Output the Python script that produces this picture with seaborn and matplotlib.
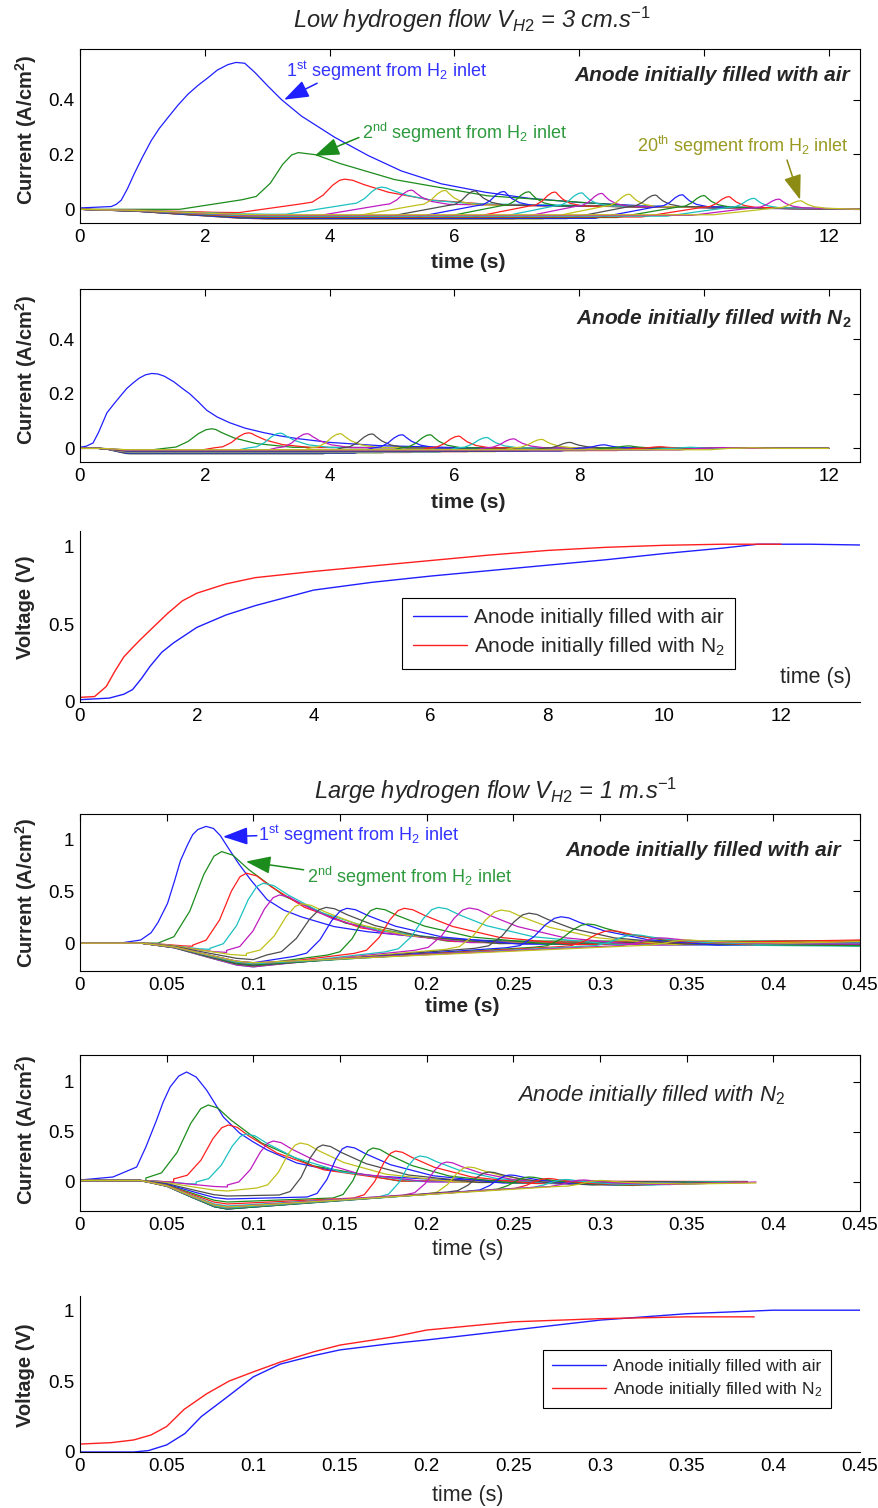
import matplotlib
matplotlib.use("Agg")
import matplotlib.pyplot as plt
import numpy as np
import seaborn as sns
from matplotlib.ticker import FuncFormatter

# ---------------------------------------------------------------- data
SEG_COLORS = ["#1f1fff", "#1c8c1c", "#ff1f1f", "#1cc0c0", "#c01cc0", "#c0c01c", "#4d4d4d"]

# shared bump profile (fraction of interval, fraction of height)
RISE_FRAC = [0.25, 0.5, 0.72, 0.88, 1.0]
RISE_LEVEL = [0.07, 0.35, 0.75, 0.95, 1.0]
FALL_FRAC = [0.05, 0.12, 0.28, 0.55, 1.0]
FALL_LEVEL = [0.96, 0.8, 0.5, 0.2, 0.0]
DIP_FRAC = [0.3, 0.6, 0.85, 1.0]
DIP_LEVEL = [0.2, 0.6, 0.92, 1.0]

# low hydrogen flow, anode filled with air: first segment
low_air_seg1_t = [0, 0.5, 0.58, 0.66, 0.76, 0.87, 1.0, 1.14, 1.27, 1.41, 1.57, 1.73, 1.89, 2.05,
                  2.2, 2.37, 2.5, 2.64, 2.8, 3.01, 3.23, 3.55, 4.08, 4.62, 5.15, 5.79, 6.5, 7.2,
                  8.0, 9.0, 10.0, 11.0, 12.5]
low_air_seg1_i = [0.005, 0.01, 0.018, 0.033, 0.075, 0.13, 0.19, 0.25, 0.295, 0.335, 0.38, 0.42,
                  0.452, 0.48, 0.508, 0.528, 0.536, 0.533, 0.5, 0.45, 0.4, 0.34, 0.263, 0.196,
                  0.14, 0.093, 0.062, 0.04, 0.025, 0.013, 0.006, 0.003, 0.0]
# segments 2..20
low_air_pk_t = [3.5, 4.24, 4.83, 5.31, 5.85, 6.33, 6.79, 7.19, 7.61, 8.04, 8.36, 8.8, 9.22, 9.65,
                10.0, 10.4, 10.8, 11.2, 11.55]
low_air_pk_i = [0.207, 0.11, 0.081, 0.07, 0.069, 0.067, 0.065, 0.064, 0.063, 0.06, 0.058, 0.055,
                0.052, 0.053, 0.05, 0.046, 0.04, 0.037, 0.031]
low_air_on_t = [2.6, 3.55, 4.3, 4.85, 5.4, 5.9, 6.35, 6.75, 7.2, 7.6, 7.95, 8.4, 8.8, 9.25, 9.6,
                10.0, 10.4, 10.8, 11.15]
low_air_on_i = [0.035, 0.02, 0.018, 0.016, 0.015, 0.014, 0.013, 0.013, 0.012, 0.012, 0.011, 0.011,
                0.01, 0.01, 0.009, 0.008, 0.007, 0.006, 0.005]
low_air_dip_i = [0.0, -0.012, -0.018, -0.022, -0.025, -0.028, -0.03, -0.032, -0.033, -0.034, -0.035,
                 -0.035, -0.034, -0.033, -0.03, -0.028, -0.025, -0.022, -0.02]
low_air_fall_w = [5.5, 2.5, 1.5, 0.6, 0.5, 0.48, 0.46, 0.45, 0.44, 0.43, 0.42, 0.42, 0.42, 0.42,
                  0.42, 0.42, 0.4, 0.4, 0.4]
low_air_tail_i = [0.01, 0.015, 0.02, 0.018, 0.016, 0.015, 0.014, 0.013, 0.012, 0.012, 0.011, 0.01,
                  0.01, 0.009, 0.008, 0.007, 0.006, 0.005, 0.004]

# low hydrogen flow, anode filled with N2
low_n2_seg1_t = [0, 0.1, 0.21, 0.3, 0.43, 0.55, 0.64, 0.75, 0.85, 0.95, 1.05, 1.15, 1.25, 1.35,
                 1.5, 1.63, 1.76, 1.9, 2.03, 2.2, 2.4, 2.65, 2.94, 3.2, 3.48, 4.0, 4.8, 6.0, 8.0,
                 12.0]
low_n2_seg1_i = [0.004, 0.008, 0.02, 0.06, 0.13, 0.165, 0.19, 0.22, 0.24, 0.258, 0.27, 0.275,
                 0.273, 0.265, 0.245, 0.222, 0.2, 0.17, 0.14, 0.115, 0.094, 0.074, 0.058, 0.046,
                 0.036, 0.022, 0.01, 0.003, 0.0, 0.0]
low_n2_pk_t = [2.11, 2.7, 3.21, 3.64, 4.17, 4.68, 5.16, 5.61, 6.07, 6.52, 6.95, 7.4, 7.85, 8.4, 8.8,
               9.3, 9.8, 10.3, 10.8]
low_n2_pk_i = [0.072, 0.057, 0.056, 0.054, 0.054, 0.053, 0.05, 0.05, 0.045, 0.04, 0.035, 0.033,
               0.022, 0.013, 0.009, 0.006, 0.004, 0.003, 0.002]
low_n2_on_t = [1.35, 2.15, 2.7, 3.15, 3.7, 4.2, 4.7, 5.15, 5.6, 6.05, 6.5, 6.95, 7.45, 8.0, 8.4, 8.9,
               9.4, 9.9, 10.4]
low_n2_on_i = [0.0, 0.002, 0.002, 0.002, 0.002, 0.002, 0.002, 0.002, 0.002, 0.002, 0.002, 0.002,
               0.001, 0.001, 0.001, 0.0, 0.0, 0.0, 0.0]
low_n2_dip_i = [-0.008, -0.01, -0.012, -0.015, -0.018, -0.02, -0.018, -0.016, -0.015, -0.014, -0.012,
                -0.012, -0.01, -0.01, -0.008, -0.008, -0.006, -0.006, -0.005]
low_n2_fall_w = [1.3, 1.0, 0.8, 0.7, 0.6, 0.55, 0.55, 0.5, 0.5, 0.5, 0.5, 0.5, 0.5, 0.5, 0.5, 0.5,
                 0.5, 0.5, 0.5]
low_n2_tail_i = [0.004, 0.003, 0.003, 0.003, 0.003, 0.002, 0.002, 0.002, 0.002, 0.002, 0.002, 0.002,
                 0.002, 0.001, 0.001, 0.001, 0.0, 0.0, 0.0]

# low hydrogen flow, cell voltage
v_low_air_t = [0, 0.5, 0.75, 0.9, 1.05, 1.2, 1.4, 1.6, 1.8, 2.0, 2.5, 3.0, 3.5, 4.0, 5.0, 6.0, 7.0,
               8.0, 9.0, 10.0, 11.0, 11.6, 12.5, 13.35]
v_low_air = [0.015, 0.025, 0.05, 0.08, 0.15, 0.23, 0.32, 0.38, 0.43, 0.48, 0.56, 0.62, 0.67, 0.72,
             0.77, 0.81, 0.845, 0.88, 0.915, 0.955, 0.99, 1.015, 1.015, 1.01]
v_low_n2_t = [0, 0.25, 0.45, 0.6, 0.75, 0.9, 1.03, 1.25, 1.5, 1.75, 2.0, 2.5, 3.0, 4.0, 5.0, 6.0,
              7.0, 8.0, 9.0, 10.0, 11.0, 12.0]
v_low_n2 = [0.03, 0.035, 0.1, 0.2, 0.29, 0.35, 0.4, 0.48, 0.57, 0.65, 0.7, 0.76, 0.8, 0.84, 0.875,
            0.91, 0.945, 0.975, 0.995, 1.008, 1.015, 1.015]

# large hydrogen flow, anode filled with air
big_air_seg1_t = [0, 0.01, 0.025, 0.035, 0.041, 0.045, 0.0505, 0.0545, 0.058, 0.062, 0.065, 0.068,
                  0.0727, 0.077, 0.081, 0.085, 0.0915, 0.0986, 0.108, 0.1175, 0.1275, 0.1466,
                  0.166, 0.19, 0.22, 0.26, 0.3, 0.35, 0.45]
big_air_seg1_i = [0, 0, 0.005, 0.03, 0.1, 0.2, 0.385, 0.6, 0.8, 0.95, 1.05, 1.1, 1.13, 1.11, 1.04,
                  0.935, 0.77, 0.61, 0.42, 0.32, 0.255, 0.16, 0.11, 0.07, 0.035, 0.01, -0.005,
                  -0.01, 0.0]
big_air_pk_t = [0.0817, 0.096, 0.1057, 0.115, 0.128, 0.142, 0.154, 0.171, 0.187, 0.2067, 0.2245,
                0.243, 0.259, 0.2775, 0.293, 0.306, 0.32, 0.335, 0.35]
big_air_pk_i = [0.886, 0.677, 0.58, 0.466, 0.38, 0.346, 0.337, 0.337, 0.337, 0.346, 0.34, 0.32,
                0.29, 0.255, 0.185, 0.12, 0.08, 0.05, 0.03]
big_air_on_t = [0.045, 0.065, 0.075, 0.0846, 0.096, 0.1077, 0.123, 0.143, 0.158, 0.176, 0.193,
                0.211, 0.228, 0.246, 0.262, 0.276, 0.291, 0.306, 0.321]
big_air_on_i = [0.0, -0.02, -0.05, -0.07, -0.1, -0.115, -0.13, -0.115, -0.1, -0.085, -0.07, -0.06,
                -0.05, -0.045, -0.04, -0.035, -0.03, -0.028, -0.025]
big_air_dip_i = [0.0, -0.03, -0.06, -0.09, -0.12, -0.16, -0.19, -0.21, -0.22, -0.23, -0.23, -0.22,
                 -0.22, -0.21, -0.21, -0.2, -0.2, -0.19, -0.19]
big_air_fall_w = [0.13, 0.12, 0.12, 0.11, 0.11, 0.1, 0.1, 0.1, 0.1, 0.1, 0.1, 0.1, 0.09, 0.09, 0.08,
                  0.08, 0.07, 0.07, 0.06]
big_air_tail_i = [0.02, 0.015, 0.01, 0.005, 0.0, -0.005, -0.01, -0.01, -0.015, -0.01, -0.02, -0.015,
                  -0.01, -0.02, -0.01, -0.015, -0.01, -0.005, 0.0]
big_air_end_i = [0.02, 0.01, 0.0, -0.01, 0.015, 0.025, -0.02, 0.005, 0.03, -0.03, 0.0, 0.02, -0.015,
                 0.01, -0.025, 0.02, 0.0, -0.01, 0.015]

# large hydrogen flow, anode filled with N2
big_n2_seg1_t = [0, 0.019, 0.0327, 0.038, 0.0442, 0.048, 0.052, 0.057, 0.0615, 0.067, 0.073,
                 0.0827, 0.092, 0.1, 0.108, 0.125, 0.144, 0.17, 0.2, 0.24, 0.3, 0.38]
big_n2_seg1_i = [0.02, 0.05, 0.15, 0.35, 0.62, 0.8, 0.95, 1.06, 1.1, 1.05, 0.92, 0.65, 0.49, 0.4,
                 0.32, 0.19, 0.12, 0.06, 0.03, 0.015, 0.005, 0.0]
big_n2_pk_t = [0.074, 0.0856, 0.096, 0.1115, 0.127, 0.14, 0.154, 0.169, 0.182, 0.196, 0.2115, 0.224,
               0.236, 0.248, 0.259, 0.27, 0.28, 0.29, 0.3]
big_n2_pk_i = [0.77, 0.57, 0.48, 0.41, 0.39, 0.37, 0.355, 0.34, 0.31, 0.26, 0.2, 0.15, 0.1, 0.07,
               0.05, 0.035, 0.025, 0.02, 0.015]
big_n2_on_t = [0.038, 0.054, 0.067, 0.085, 0.102, 0.115, 0.131, 0.146, 0.158, 0.172, 0.187, 0.2,
               0.212, 0.225, 0.235, 0.245, 0.255, 0.265, 0.275]
big_n2_on_i = [0.04, 0.03, 0.0, -0.03, -0.06, -0.13, -0.15, -0.16, -0.16, -0.15, -0.13, -0.12, -0.1,
               -0.09, -0.08, -0.07, -0.06, -0.05, -0.045]
big_n2_dip_i = [0.0, 0.0, -0.02, -0.05, -0.09, -0.14, -0.17, -0.2, -0.22, -0.24, -0.25, -0.26, -0.27,
                -0.27, -0.27, -0.26, -0.26, -0.25, -0.25]
big_n2_fall_w = [0.11, 0.1, 0.1, 0.09, 0.09, 0.09, 0.09, 0.08, 0.08, 0.08, 0.07, 0.07, 0.06, 0.06,
                 0.06, 0.05, 0.05, 0.05, 0.05]
big_n2_tail_i = [0.01, 0.01, 0.005, 0.0, 0.0, -0.005, -0.01, -0.01, -0.015, -0.02, -0.02, -0.025,
                 -0.03, -0.03, -0.035, -0.03, -0.03, -0.025, -0.02]
big_n2_end_t = [0.385, 0.38, 0.35, 0.385, 0.31, 0.385, 0.35, 0.385, 0.29, 0.385, 0.35, 0.31, 0.385,
                0.385, 0.35, 0.385, 0.38, 0.39, 0.39]
big_n2_end_i = [0.0, 0.005, -0.005, 0.0, -0.01, 0.005, -0.01, 0.0, -0.015, 0.005, -0.01, -0.02, 0.0,
                -0.005, -0.01, 0.0, -0.005, 0.0, -0.01]

# large hydrogen flow, cell voltage
v_big_air_t = [0, 0.031, 0.0395, 0.05, 0.0605, 0.07, 0.083, 0.1, 0.1156, 0.135, 0.15, 0.18, 0.2,
               0.25, 0.3, 0.35, 0.4, 0.45]
v_big_air = [0, 0, 0.01, 0.05, 0.13, 0.25, 0.37, 0.53, 0.62, 0.68, 0.72, 0.765, 0.79, 0.86, 0.93,
             0.975, 1.0, 1.0]
v_big_n2_t = [0, 0.018, 0.031, 0.041, 0.05, 0.06, 0.073, 0.086, 0.1, 0.116, 0.135, 0.15, 0.18, 0.2,
              0.25, 0.3, 0.35, 0.389]
v_big_n2 = [0.056, 0.066, 0.085, 0.12, 0.18, 0.3, 0.41, 0.5, 0.565, 0.636, 0.707, 0.754, 0.81, 0.86,
            0.918, 0.94, 0.953, 0.953]

LEG_AIR = "Anode initially filled with air"
LEG_N2 = "Anode initially filled with N$_2$"

# ---------------------------------------------------------------- style
sns.set_theme(style="white")
plt.rcParams["font.family"] = ["Liberation Sans", "DejaVu Sans"]
plt.rcParams["mathtext.fontset"] = "custom"
plt.rcParams["mathtext.rm"] = "Liberation Sans"
plt.rcParams["mathtext.it"] = "Liberation Sans:italic"
plt.rcParams["mathtext.bf"] = "Liberation Sans:bold"
plt.rcParams["axes.linewidth"] = 0.8

W, H = 879, 1508
TICK_FS = 13.5
fig = plt.figure(figsize=(W / 100, H / 100), dpi=100)


def add_panel(top, bottom):
    return fig.add_axes([80 / W, 1 - bottom / H, 780 / W, (bottom - top) / H])


def style_axes(ax, xlim, ylim, xticks, yticks, boxed):
    ax.set_xlim(*xlim)
    ax.set_ylim(*ylim)
    ax.set_xticks(xticks)
    ax.set_yticks(yticks)
    fmt = FuncFormatter(lambda v, _: "%g" % round(v, 3))
    ax.xaxis.set_major_formatter(fmt)
    ax.yaxis.set_major_formatter(fmt)
    ax.tick_params(direction="in", length=5, width=0.8, colors="black", labelsize=TICK_FS,
                   top=boxed, right=boxed, pad=4)
    for side in ["top", "right"]:
        ax.spines[side].set_visible(boxed)
    for sp in ax.spines.values():
        sp.set_color("black")
    ax.set_xlabel("")
    ax.set_ylabel("")


def segment_path(k, d, p):
    # k indexes segments 2..20 of panel data d, p holds panel level settings
    on_t, on_i = d["on_t"][k], d["on_i"][k]
    pk_t, pk_i = d["pk_t"][k], d["pk_i"][k]
    end_t = d["end_t"][k] if "end_t" in d else p["end"]
    end_i = d["end_i"][k] if "end_i" in d else 0.0
    ts, ys = [0.0], [p["y0"]]
    dip_t = min(p["dip_t"], on_t - p["lead"])
    if on_t > p["dip_start"]:
        ts.append(p["dip_start"])
        ys.append(p["y0"])
        if dip_t > p["dip_start"]:
            dip_i = d["dip_i"][k]
            for f, lv in zip(DIP_FRAC, DIP_LEVEL):
                ts.append(p["dip_start"] + f * (dip_t - p["dip_start"]))
                ys.append(p["y0"] + lv * (dip_i - p["y0"]))
            hold = on_t - p["lead"]
            if dip_t < hold < on_t:
                ts.append(hold)
                ys.append(dip_i)
    ts.append(on_t)
    ys.append(on_i)
    for f, lv in zip(RISE_FRAC, RISE_LEVEL):
        ts.append(on_t + f * (pk_t - on_t))
        ys.append(on_i + lv * (pk_i - on_i))
    tail = d["tail_i"][k]
    for f, lv in zip(FALL_FRAC, FALL_LEVEL):
        t = pk_t + f * d["fall_w"][k]
        if t < end_t:
            ts.append(t)
            ys.append(tail + lv * (pk_i - tail))
    ts.append(end_t)
    ys.append(end_i)
    return ts, ys


def draw_segments(ax, seg1_t, seg1_i, d, p):
    sns.lineplot(x=seg1_t, y=seg1_i, ax=ax, color=SEG_COLORS[0], lw=0.9, estimator=None, sort=False)
    for k in range(len(d["pk_t"])):
        ts, ys = segment_path(k, d, p)
        sns.lineplot(x=ts, y=ys, ax=ax, color=SEG_COLORS[(k + 1) % 7], lw=0.9,
                     estimator=None, sort=False)


def fig_text(x, y, s, **kw):
    fig.text(x / W, 1 - y / H, s, **kw)


def arrow(ax, tip, tail, color):
    ax.annotate("", xy=tip, xytext=tail,
                arrowprops=dict(arrowstyle="-|>,head_length=0.9,head_width=0.32", color=color,
                                lw=1.1, mutation_scale=17, shrinkA=0, shrinkB=0))


ANN_FS = 13
SIDE_FS = 15
XLAB_FS = 15
YLAB_FS = 14.5
TITLE_FS = 17

# ---------------------------------------------------------------- panel 1
ax1 = add_panel(49, 223)
draw_segments(ax1, low_air_seg1_t, low_air_seg1_i,
              dict(pk_t=low_air_pk_t, pk_i=low_air_pk_i, on_t=low_air_on_t, on_i=low_air_on_i,
                   dip_i=low_air_dip_i, fall_w=low_air_fall_w, tail_i=low_air_tail_i),
              dict(y0=0.0, dip_start=0.0, dip_t=3.0, lead=1.0, end=12.5))
style_axes(ax1, (0, 12.5), (-0.05, 0.585), np.arange(0, 13, 2), [0, 0.2, 0.4], True)
ax1.text(12.34, 0.487, "Anode initially filled with air", ha="right", va="center",
         fontsize=SIDE_FS, style="italic", weight="bold")
arrow(ax1, (3.27, 0.40), (3.8, 0.46), "#2020ff")
ax1.text(3.3, 0.505, "1$^{\\rm st}$ segment from H$_2$ inlet", color="#3333ff", fontsize=ANN_FS,
         va="center")
arrow(ax1, (3.76, 0.195), (4.47, 0.262), "#1c8c1c")
ax1.text(4.52, 0.28, "2$^{\\rm nd}$ segment from H$_2$ inlet", color="#2e9a3e", fontsize=ANN_FS,
         va="center")
arrow(ax1, (11.54, 0.035), (11.33, 0.18), "#8c8c14")
ax1.text(8.92, 0.233, "20$^{\\rm th}$ segment from H$_2$ inlet", color="#9a9a22", fontsize=ANN_FS,
         va="center")
fig_text(472, 20, "Low hydrogen flow $V_{H2}$ = 3 cm.s$^{-1}$", ha="center", va="center",
         fontsize=TITLE_FS, style="italic")
fig_text(468, 263, "time (s)", ha="center", va="center", fontsize=XLAB_FS, weight="bold")
fig_text(26, 130, "Current (A/cm$^\\mathbf{2}$)", ha="center", va="center", rotation=90,
         fontsize=YLAB_FS, weight="bold")

# ---------------------------------------------------------------- panel 2
ax2 = add_panel(289, 462)
draw_segments(ax2, low_n2_seg1_t, low_n2_seg1_i,
              dict(pk_t=low_n2_pk_t, pk_i=low_n2_pk_i, on_t=low_n2_on_t, on_i=low_n2_on_i,
                   dip_i=low_n2_dip_i, fall_w=low_n2_fall_w, tail_i=low_n2_tail_i),
              dict(y0=0.0, dip_start=0.3, dip_t=0.8, lead=0.3, end=12.0))
style_axes(ax2, (0, 12.5), (-0.05, 0.585), np.arange(0, 13, 2), [0, 0.2, 0.4], True)
ax2.text(12.36, 0.476, "Anode initially filled with N$_\\mathbf{2}$", ha="right", va="center",
         fontsize=SIDE_FS, style="italic", weight="bold")
fig_text(468, 502, "time (s)", ha="center", va="center", fontsize=XLAB_FS, weight="bold")
fig_text(26, 370, "Current (A/cm$^\\mathbf{2}$)", ha="center", va="center", rotation=90,
         fontsize=YLAB_FS, weight="bold")

# ---------------------------------------------------------------- panel 3
ax3 = add_panel(531, 702)
sns.lineplot(x=v_low_air_t, y=v_low_air, ax=ax3, color="#1f1fff", lw=1.0, estimator=None,
             sort=False, label=LEG_AIR)
sns.lineplot(x=v_low_n2_t, y=v_low_n2, ax=ax3, color="#ff1f1f", lw=1.0, estimator=None,
             sort=False, label=LEG_N2)
style_axes(ax3, (0, 13.35), (0, 1.1), np.arange(0, 13, 2), [0, 0.5, 1], False)
leg3 = ax3.legend(loc="upper left", bbox_to_anchor=(0.413, 0.61), frameon=True, fancybox=False,
                  edgecolor="black", framealpha=1, handlelength=2.6, handletextpad=0.35,
                  borderpad=0.5, labelspacing=0.4, borderaxespad=0, fontsize=15)
leg3.get_frame().set_linewidth(0.8)
ax3.text(12.6, 0.16, "time (s)", ha="center", va="center", fontsize=15.5)
fig_text(26, 607, "Voltage (V)", ha="center", va="center", rotation=90, fontsize=YLAB_FS,
         weight="bold")

# ---------------------------------------------------------------- panel 4
ax4 = add_panel(814, 971)
draw_segments(ax4, big_air_seg1_t, big_air_seg1_i,
              dict(pk_t=big_air_pk_t, pk_i=big_air_pk_i, on_t=big_air_on_t, on_i=big_air_on_i,
                   dip_i=big_air_dip_i, fall_w=big_air_fall_w, tail_i=big_air_tail_i,
                   end_i=big_air_end_i),
              dict(y0=0.0, dip_start=0.035, dip_t=0.1, lead=0.0, end=0.45))
style_axes(ax4, (0, 0.45), (-0.27, 1.25), np.arange(0, 0.46, 0.05), [0, 0.5, 1], True)
ax4.text(0.4389, 0.9, "Anode initially filled with air", ha="right", va="center",
         fontsize=SIDE_FS, style="italic", weight="bold")
arrow(ax4, (0.0825, 1.03), (0.102, 1.04), "#2020ff")
ax4.text(0.1027, 1.04, "1$^{\\rm st}$ segment from H$_2$ inlet", color="#3333ff", fontsize=ANN_FS,
         va="center")
arrow(ax4, (0.0957, 0.79), (0.129, 0.71), "#1c8c1c")
ax4.text(0.131, 0.64, "2$^{\\rm nd}$ segment from H$_2$ inlet", color="#2e9a3e", fontsize=ANN_FS,
         va="center")
fig_text(496, 791, "Large hydrogen flow $V_{H2}$ = 1 m.s$^{-1}$", ha="center", va="center",
         fontsize=TITLE_FS, style="italic")
fig_text(462, 1007, "time (s)", ha="center", va="center", fontsize=XLAB_FS, weight="bold")
fig_text(26, 893, "Current (A/cm$^\\mathbf{2}$)", ha="center", va="center", rotation=90,
         fontsize=YLAB_FS, weight="bold")

# ---------------------------------------------------------------- panel 5
ax5 = add_panel(1055, 1211)
draw_segments(ax5, big_n2_seg1_t, big_n2_seg1_i,
              dict(pk_t=big_n2_pk_t, pk_i=big_n2_pk_i, on_t=big_n2_on_t, on_i=big_n2_on_i,
                   dip_i=big_n2_dip_i, fall_w=big_n2_fall_w, tail_i=big_n2_tail_i,
                   end_t=big_n2_end_t, end_i=big_n2_end_i),
              dict(y0=0.015, dip_start=0.035, dip_t=0.085, lead=0.0, end=0.385))
style_axes(ax5, (0, 0.45), (-0.29, 1.27), np.arange(0, 0.46, 0.05), [0, 0.5, 1], True)
ax5.text(0.4068, 0.87, "Anode initially filled with N$_2$", ha="right", va="center", fontsize=16,
         style="italic")
fig_text(468, 1250, "time (s)", ha="center", va="center", fontsize=15.5)
fig_text(26, 1130, "Current (A/cm$^\\mathbf{2}$)", ha="center", va="center", rotation=90,
         fontsize=YLAB_FS, weight="bold")

# ---------------------------------------------------------------- panel 6
ax6 = add_panel(1296, 1452)
sns.lineplot(x=v_big_air_t, y=v_big_air, ax=ax6, color="#1f1fff", lw=1.0, estimator=None,
             sort=False, label=LEG_AIR)
sns.lineplot(x=v_big_n2_t, y=v_big_n2, ax=ax6, color="#ff1f1f", lw=1.0, estimator=None,
             sort=False, label=LEG_N2)
style_axes(ax6, (0, 0.45), (0, 1.1), np.arange(0, 0.46, 0.05), [0, 0.5, 1], False)
leg6 = ax6.legend(loc="upper left", bbox_to_anchor=(0.594, 0.654), frameon=True, fancybox=False,
                  edgecolor="black", framealpha=1, handlelength=3.1, handletextpad=0.4,
                  borderpad=0.5, labelspacing=0.35, borderaxespad=0, fontsize=12.5)
leg6.get_frame().set_linewidth(0.8)
fig_text(468, 1495, "time (s)", ha="center", va="center", fontsize=15.5)
fig_text(26, 1375, "Voltage (V)", ha="center", va="center", rotation=90, fontsize=YLAB_FS,
         weight="bold")

fig.savefig("out.png", dpi=100, facecolor="white")
